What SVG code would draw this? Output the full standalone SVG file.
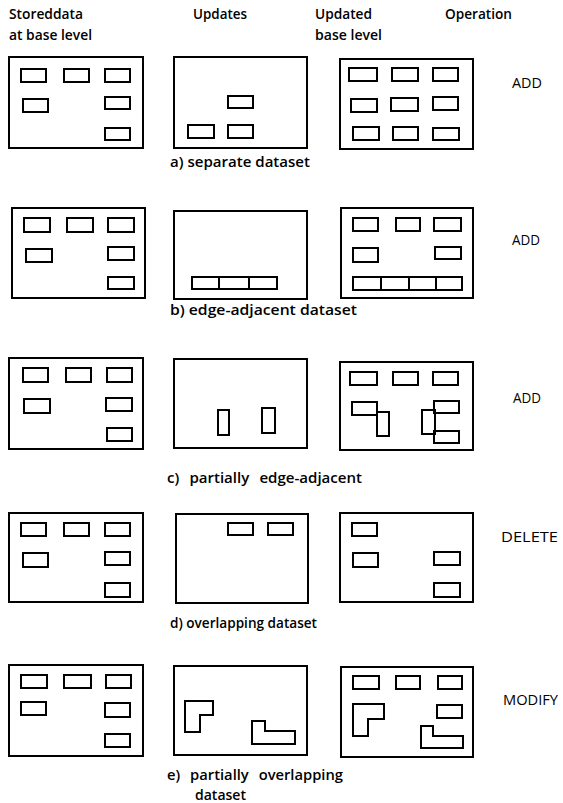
<svg xmlns="http://www.w3.org/2000/svg" width="563" height="803" viewBox="0 0 563 803">
<style>
text{font-family:"Open Sans","Liberation Sans","DejaVu Sans",sans-serif;font-size:14.5px;font-weight:600;fill:#000}
.box{fill:none;stroke:#000;stroke-width:2}
.r{fill:none;stroke:#000;stroke-width:2}
.op{font-size:14px;font-weight:500}
</style>
<rect width="563" height="803" fill="#fff"/>
<g id="header">
<text x="9" y="19" textLength="74" lengthAdjust="spacingAndGlyphs">Storeddata</text>
<text x="9" y="40" textLength="83" lengthAdjust="spacingAndGlyphs">at base level</text>
<text x="193" y="19" textLength="54" lengthAdjust="spacingAndGlyphs">Updates</text>
<text x="315" y="19" textLength="57" lengthAdjust="spacingAndGlyphs">Updated</text>
<text x="315" y="40" textLength="67" lengthAdjust="spacingAndGlyphs">base level</text>
<text x="445" y="19" textLength="67" lengthAdjust="spacingAndGlyphs">Operation</text>
</g>

<g id="row-a">
<g id="a-stored">
<rect class="box" x="9" y="57" width="134" height="91"/>
<rect class="r" x="21" y="69" width="25" height="13"/>
<rect class="r" x="64" y="69" width="25" height="13"/>
<rect class="r" x="105" y="69" width="25" height="13"/>
<rect class="r" x="23" y="99" width="25" height="13"/>
<rect class="r" x="105" y="97" width="25" height="12"/>
<rect class="r" x="105" y="128" width="25" height="12"/>
</g>
<g id="a-updates">
<rect class="box" x="174" y="57" width="133" height="91"/>
<rect class="r" x="228" y="96" width="25" height="12"/>
<rect class="r" x="188" y="125" width="26" height="13"/>
<rect class="r" x="228" y="125" width="25" height="13"/>
</g>
<g id="a-updated">
<rect class="box" x="340" y="59" width="133" height="90"/>
<rect class="r" x="349" y="68" width="28" height="13"/>
<rect class="r" x="392" y="68" width="26" height="13"/>
<rect class="r" x="433" y="68" width="25" height="13"/>
<rect class="r" x="351" y="99" width="26" height="13"/>
<rect class="r" x="391" y="98" width="27" height="13"/>
<rect class="r" x="433" y="97" width="25" height="13"/>
<rect class="r" x="353" y="127" width="26" height="13"/>
<rect class="r" x="393" y="127" width="25" height="13"/>
<rect class="r" x="433" y="128" width="26" height="12"/>
</g>
<text class="op" x="512" y="88" textLength="30" lengthAdjust="spacingAndGlyphs">ADD</text>
<text x="170" y="167" textLength="140" lengthAdjust="spacingAndGlyphs">a) separate dataset</text>
</g>

<g id="row-b">
<g id="b-stored">
<rect class="box" x="12" y="208" width="133" height="90"/>
<rect class="r" x="24" y="218" width="26" height="14"/>
<rect class="r" x="67" y="218" width="26" height="14"/>
<rect class="r" x="108" y="218" width="26" height="14"/>
<rect class="r" x="26" y="249" width="26" height="13"/>
<rect class="r" x="108" y="247" width="26" height="13"/>
<rect class="r" x="108" y="277" width="26" height="12"/>
</g>
<g id="b-updates">
<rect class="box" x="174" y="211" width="133" height="88"/>
<rect class="r" x="192" y="277" width="85" height="12"/>
<line class="r" x1="219" y1="277" x2="219" y2="289"/>
<line class="r" x1="249" y1="277" x2="249" y2="289"/>
</g>
<g id="b-updated">
<rect class="box" x="341" y="208" width="132" height="90"/>
<rect class="r" x="353" y="218" width="25" height="13"/>
<rect class="r" x="396" y="218" width="24" height="13"/>
<rect class="r" x="434" y="218" width="27" height="13"/>
<rect class="r" x="353" y="248" width="25" height="14"/>
<rect class="r" x="435" y="247" width="26" height="12"/>
<rect class="r" x="353" y="277" width="109" height="13"/>
<line class="r" x1="381" y1="277" x2="381" y2="290"/>
<line class="r" x1="409" y1="277" x2="409" y2="290"/>
<line class="r" x1="436" y1="277" x2="436" y2="290"/>
</g>
<text class="op" x="512" y="245" textLength="28" lengthAdjust="spacingAndGlyphs">ADD</text>
<text x="170" y="315" textLength="187" lengthAdjust="spacingAndGlyphs">b) edge-adjacent dataset</text>
</g>

<g id="row-c">
<g id="c-stored">
<rect class="box" x="9" y="358" width="134" height="91"/>
<rect class="r" x="23" y="368" width="25" height="14"/>
<rect class="r" x="66" y="368" width="25" height="14"/>
<rect class="r" x="107" y="368" width="25" height="14"/>
<rect class="r" x="24" y="399" width="26" height="14"/>
<rect class="r" x="106" y="398" width="26" height="13"/>
<rect class="r" x="107" y="428" width="25" height="13"/>
</g>
<g id="c-updates">
<rect class="box" x="174" y="359" width="133" height="89"/>
<rect class="r" x="218" y="410" width="11" height="25"/>
<rect class="r" x="262" y="408" width="13" height="25"/>
</g>
<g id="c-updated">
<rect class="box" x="340" y="362" width="133" height="88"/>
<rect class="r" x="350" y="372" width="27" height="13"/>
<rect class="r" x="393" y="372" width="25" height="13"/>
<rect class="r" x="433" y="372" width="25" height="13"/>
<rect class="r" x="352" y="402" width="25" height="13"/>
<rect class="r" x="377" y="412" width="12" height="24"/>
<rect class="r" x="422" y="410" width="13" height="24"/>
<rect class="r" x="434" y="401" width="25" height="12"/>
<rect class="r" x="434" y="431" width="25" height="12"/>
</g>
<text class="op" x="513" y="403" textLength="28" lengthAdjust="spacingAndGlyphs">ADD</text>
<text x="167" y="483" textLength="195" lengthAdjust="spacingAndGlyphs" style="word-spacing:6px">c) partially edge-adjacent</text>
</g>

<g id="row-d">
<g id="d-stored">
<rect class="box" x="9" y="513" width="134" height="89"/>
<rect class="r" x="21" y="523" width="25" height="13"/>
<rect class="r" x="64" y="523" width="25" height="13"/>
<rect class="r" x="105" y="523" width="25" height="13"/>
<rect class="r" x="23" y="553" width="25" height="14"/>
<rect class="r" x="105" y="552" width="25" height="13"/>
<rect class="r" x="105" y="583" width="25" height="14"/>
</g>
<g id="d-updates">
<rect class="box" x="176" y="514" width="132" height="89"/>
<rect class="r" x="228" y="523" width="25" height="12"/>
<rect class="r" x="268" y="523" width="25" height="12"/>
</g>
<g id="d-updated">
<rect class="box" x="340" y="513" width="133" height="89"/>
<rect class="r" x="352" y="523" width="25" height="13"/>
<rect class="r" x="353" y="553" width="25" height="14"/>
<rect class="r" x="434" y="552" width="26" height="13"/>
<rect class="r" x="434" y="583" width="26" height="14"/>
</g>
<text class="op" x="501" y="542" textLength="57" lengthAdjust="spacingAndGlyphs">DELETE</text>
<text x="170" y="628" textLength="147" lengthAdjust="spacingAndGlyphs">d) overlapping dataset</text>
</g>

<g id="row-e">
<g id="e-stored">
<rect class="box" x="9" y="665" width="134" height="91"/>
<rect class="r" x="21" y="675" width="26" height="13"/>
<rect class="r" x="64" y="675" width="27" height="13"/>
<rect class="r" x="106" y="675" width="25" height="13"/>
<rect class="r" x="21" y="702" width="25" height="13"/>
<rect class="r" x="105" y="703" width="25" height="14"/>
<rect class="r" x="105" y="734" width="25" height="13"/>
</g>
<g id="e-updates">
<rect class="box" x="174" y="666" width="133" height="89"/>
<polygon class="r" points="185,701 213,701 213,715 200,715 200,732 185,732"/>
<polygon class="r" points="252,721 265,721 265,731 295,731 295,744 252,744"/>
</g>
<g id="e-updated">
<rect class="box" x="341" y="667" width="132" height="90"/>
<rect class="r" x="353" y="676" width="26" height="13"/>
<rect class="r" x="396" y="676" width="24" height="13"/>
<rect class="r" x="438" y="676" width="24" height="13"/>
<rect class="r" x="437" y="705" width="25" height="13"/>
<polygon class="r" points="353,704 384,704 384,719 368,719 368,736 353,736"/>
<polygon class="r" points="421,726 433,726 433,736 463,736 463,748 421,748"/>
</g>
<text class="op" x="503" y="705" textLength="55" lengthAdjust="spacingAndGlyphs">MODIFY</text>
<text x="167" y="780" textLength="176" lengthAdjust="spacingAndGlyphs" style="word-spacing:6px">e) partially overlapping</text>
<text x="195" y="800" textLength="51" lengthAdjust="spacingAndGlyphs">dataset</text>
</g>
</svg>
